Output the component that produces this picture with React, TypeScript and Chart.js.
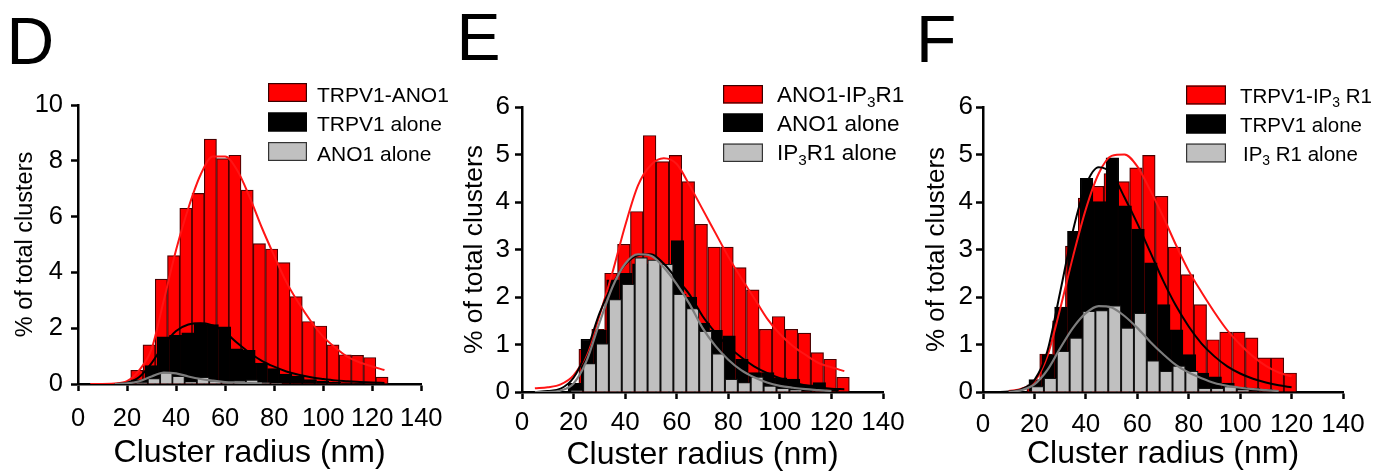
import React, { useEffect, useRef } from 'react';
import { Chart, registerables } from 'chart.js';

Chart.register(...registerables);

const FONT = '"Liberation Sans", Arial, Helvetica, sans-serif';

// ---------------- Panel D : TRPV1-ANO1 ----------------
const D_RED_BINS = [24, 29, 34, 39, 44, 49, 54, 59, 64, 69, 74, 79, 84, 89, 94, 99, 104, 109, 114, 119, 124];
const D_RED = [0.49, 1.4, 3.76, 4.6, 6.3, 6.83, 8.78, 8.08, 8.2, 6.95, 5.03, 4.84, 4.35, 3.13, 2.24, 2.08, 1.4, 1.05, 1.03, 0.95, 0.25];
const D_BLACK_BINS = [24.8, 29.8, 34.8, 39.8, 44.8, 49.8, 54.8, 59.8, 64.8, 69.8, 74.8, 79.8, 84.8, 89.8, 94.8, 99.8, 104.8, 109.8, 114.8];
const D_BLACK = [0.15, 0.66, 1.69, 1.74, 1.83, 2.19, 2.13, 2.05, 1.26, 1.21, 0.75, 0.55, 0.36, 0.28, 0.16, 0.1, 0.06, 0.04, 0.03];
const D_GRAY_BINS = [26, 31, 36, 41, 46, 51, 56, 61, 66, 71, 76, 81];
const D_GRAY = [0.05, 0.2, 0.42, 0.28, 0.08, 0.25, 0.12, 0.05, 0.12, 0.15, 0.05, 0.03];
const D_RED_FIT_X = [5, 15, 20, 25, 30, 35, 40, 45, 50, 55, 60, 65, 70, 75, 80, 85, 90, 95, 100, 105, 110, 115, 120, 125];
const D_RED_FIT_Y = [0, 0.02, 0.1, 0.5, 1.25, 3.0, 4.8, 6.3, 7.5, 8.15, 8.15, 7.65, 6.7, 5.6, 4.6, 3.65, 2.9, 2.25, 1.7, 1.3, 0.97, 0.77, 0.63, 0.5];
const D_BLACK_FIT_X = [15, 20, 25, 30, 35, 40, 45, 50, 55, 60, 65, 70, 75, 80, 85, 90, 95, 100, 105, 110, 115, 120, 125];
const D_BLACK_FIT_Y = [0, 0.05, 0.25, 0.75, 1.4, 1.9, 2.13, 2.18, 2.1, 1.85, 1.47, 1.12, 0.83, 0.62, 0.45, 0.33, 0.24, 0.18, 0.13, 0.1, 0.07, 0.05, 0.04];
const D_GRAY_FIT_X = [15, 20, 25, 30, 35, 40, 45, 50, 55, 60, 65, 70, 75];
const D_GRAY_FIT_Y = [0, 0.02, 0.1, 0.27, 0.41, 0.38, 0.27, 0.18, 0.12, 0.07, 0.05, 0.03, 0.02];
const D_LEGEND = ['TRPV1-ANO1', 'TRPV1 alone', 'ANO1 alone'];

// ---------------- Panel E : ANO1-IP3R1 ----------------
const E_RED_BINS = [19.5, 24.5, 29.5, 34.5, 39.5, 44.5, 49.5, 54.5, 59.5, 64.5, 69.5, 74.5, 79.5, 84.5, 89.5, 94.5, 99.5, 104.5, 109.5, 114.5, 119.5, 124.5];
const E_RED = [0, 0.9, 1.32, 2.5, 3.11, 3.8, 5.4, 4.85, 4.98, 4.43, 3.53, 3.05, 3.05, 2.62, 2.15, 1.32, 1.59, 1.32, 1.24, 0.83, 0.69, 0.31];
const E_BLACK_BINS = [20.3, 25.3, 30.3, 35.3, 40.3, 45.3, 50.3, 55.3, 60.3, 65.3, 70.3, 75.3, 80.3, 85.3, 90.3, 95.3, 100.3, 105.3, 110.3, 115.3, 120.3];
const E_BLACK = [0.18, 1.11, 1.3, 2.36, 2.5, 2.7, 2.7, 2.6, 3.19, 2.0, 1.45, 1.3, 1.18, 0.69, 0.41, 0.41, 0.3, 0.27, 0.15, 0.2, 0.05];
const E_GRAY_BINS = [21.2, 26.2, 31.2, 36.2, 41.2, 46.2, 51.2, 56.2, 61.2, 66.2, 71.2, 76.2, 81.2, 86.2, 91.2, 96.2, 101.2, 106.2];
const E_GRAY = [0.03, 0.6, 1.02, 1.95, 2.27, 2.83, 2.78, 2.69, 2.06, 1.76, 1.28, 0.81, 0.27, 0.2, 0.32, 0.13, 0.08, 0.05];
const E_RED_FIT_X = [5, 10, 15, 20, 25, 30, 35, 40, 45, 50, 55, 60, 65, 70, 75, 80, 85, 90, 95, 100, 105, 110, 115, 120, 125];
const E_RED_FIT_Y = [0.08, 0.1, 0.16, 0.35, 0.8, 1.6, 2.5, 3.5, 4.35, 4.78, 4.92, 4.8, 4.35, 3.85, 3.35, 2.85, 2.4, 1.98, 1.55, 1.22, 0.97, 0.78, 0.61, 0.52, 0.44];
const E_BLACK_FIT_X = [5, 10, 15, 20, 25, 30, 35, 40, 45, 50, 55, 60, 65, 70, 75, 80, 85, 90, 95, 100, 105, 110, 115, 120, 125];
const E_BLACK_FIT_Y = [0, 0.02, 0.07, 0.3, 0.85, 1.65, 2.25, 2.68, 2.88, 2.9, 2.7, 2.38, 2.05, 1.6, 1.25, 0.96, 0.73, 0.54, 0.4, 0.29, 0.21, 0.14, 0.1, 0.07, 0.06];
const E_GRAY_FIT_X = [5, 10, 15, 20, 25, 30, 35, 40, 45, 50, 55, 60, 65, 70, 75, 80, 85, 90, 95, 100, 105, 110, 115, 120];
const E_GRAY_FIT_Y = [0, 0, 0.03, 0.18, 0.65, 1.45, 2.2, 2.7, 2.9, 2.87, 2.62, 2.27, 1.85, 1.35, 0.97, 0.68, 0.46, 0.31, 0.2, 0.13, 0.09, 0.06, 0.04, 0.02];
const E_LEGEND = ['ANO1-IP{3}R1', 'ANO1 alone', 'IP{3}R1 alone'];

// ---------------- Panel F : TRPV1-IP3R1 ----------------
const F_RED_BINS = [19.5, 24.5, 29.5, 34.5, 39.5, 44.5, 49.5, 54.5, 59.5, 64.5, 69.5, 74.5, 79.5, 84.5, 89.5, 94.5, 99.5, 104.5, 109.5, 114.5, 119.5];
const F_RED = [0.15, 0.8, 1.5, 3.07, 4.08, 4.33, 4.6, 4.43, 4.72, 4.98, 4.12, 3.05, 2.47, 1.84, 1.1, 1.26, 1.26, 1.14, 0.72, 0.72, 0.4];
const F_BLACK_BINS = [20.3, 25.3, 30.3, 35.3, 40.3, 45.3, 50.3, 55.3, 60.3, 65.3, 70.3, 75.3, 80.3, 85.3, 90.3, 95.3, 100.3, 105.3, 110.3];
const F_BLACK = [0.26, 0.79, 1.79, 3.38, 4.5, 4.01, 4.93, 3.92, 3.43, 2.72, 1.84, 1.31, 0.79, 0.4, 0.32, 0.19, 0.1, 0.08, 0.05];
const F_GRAY_BINS = [21.2, 26.2, 31.2, 36.2, 41.2, 46.2, 51.2, 56.2, 61.2, 66.2, 71.2, 76.2, 81.2, 86.2, 91.2, 96.2, 101.2];
const F_GRAY = [0.12, 0.29, 0.86, 1.14, 1.7, 1.72, 1.82, 1.35, 1.66, 0.66, 0.44, 0.55, 0.44, 0.08, 0.08, 0.12, 0.05];
const F_RED_FIT_X = [10, 15, 20, 25, 30, 35, 40, 45, 50, 55, 60, 65, 70, 75, 80, 85, 90, 95, 100, 105, 110, 115, 120];
const F_RED_FIT_Y = [0.02, 0.07, 0.22, 0.75, 1.75, 2.85, 3.85, 4.6, 4.97, 5.0, 4.75, 4.25, 3.7, 3.1, 2.55, 2.1, 1.68, 1.3, 1.0, 0.75, 0.55, 0.41, 0.33];
const F_BLACK_FIT_X = [5, 10, 15, 20, 25, 30, 35, 40, 45, 50, 55, 60, 65, 70, 75, 80, 85, 90, 95, 100, 105, 110, 115, 120];
const F_BLACK_FIT_Y = [0, 0.01, 0.06, 0.25, 0.85, 2.1, 3.4, 4.35, 4.73, 4.6, 4.1, 3.55, 2.95, 2.35, 1.82, 1.38, 1.02, 0.75, 0.54, 0.39, 0.28, 0.2, 0.14, 0.1];
const F_GRAY_FIT_X = [10, 15, 20, 25, 30, 35, 40, 45, 50, 55, 60, 65, 70, 75, 80, 85, 90, 95, 100, 105, 110, 115];
const F_GRAY_FIT_Y = [0, 0.04, 0.16, 0.46, 0.92, 1.35, 1.66, 1.81, 1.78, 1.6, 1.35, 1.06, 0.8, 0.57, 0.41, 0.29, 0.19, 0.13, 0.09, 0.06, 0.04, 0.02];
const F_LEGEND = ['TRPV1-IP{3} R1', 'TRPV1 alone', 'IP{3} R1 alone'];

const X_TITLE = 'Cluster radius (nm)';
const Y_TITLE = '% of total clusters';

const RED = '#ff0000';
const BLACK = '#000000';
const GRAY = '#c0c0c0';

type Part = { t: string; sub: boolean };
function parseRich(s: string): Part[] {
  const parts: Part[] = [];
  const re = /\{([^}]*)\}/g;
  let last = 0;
  let m: RegExpExecArray | null;
  while ((m = re.exec(s))) {
    if (m.index > last) parts.push({ t: s.slice(last, m.index), sub: false });
    parts.push({ t: m[1], sub: true });
    last = re.lastIndex;
  }
  if (last < s.length) parts.push({ t: s.slice(last), sub: false });
  return parts;
}

const overlayPlugin = {
  id: 'overlay',
  afterDraw(chart: any, _args: any, o: any) {
    const ctx = chart.ctx as CanvasRenderingContext2D;
    ctx.save();
    ctx.textAlign = 'left';
    ctx.textBaseline = 'alphabetic';
    ctx.fillStyle = '#000';
    ctx.font = `${o.letterSize}px ${FONT}`;
    ctx.fillText(o.letter, o.letterX - o.left, o.letterY);
    const fills = [RED, BLACK, GRAY];
    const borders = ['#3a0000', '#000000', '#333333'];
    o.labels.forEach((lab: string, i: number) => {
      const bx = o.boxX - o.left;
      const by = o.boxTops[i];
      ctx.fillStyle = fills[i];
      ctx.fillRect(bx, by, o.boxW, o.boxH);
      ctx.strokeStyle = borders[i];
      ctx.lineWidth = 1.2;
      ctx.strokeRect(bx + 0.6, by + 0.6, o.boxW - 1.2, o.boxH - 1.2);
      let x = o.textX[i] - o.left;
      const base = o.baselines[i];
      parseRich(lab).forEach((p) => {
        const size = p.sub ? o.fontSize * 0.68 : o.fontSize;
        ctx.font = `${size}px ${FONT}`;
        ctx.fillStyle = '#000';
        ctx.fillText(p.t, x, base + (p.sub ? o.fontSize * 0.24 : 0));
        x += ctx.measureText(p.t).width;
      });
    });
    ctx.restore();
  },
};

type PanelSpec = {
  letter: string;
  left: number;
  width: number;
  yAxisW: number;
  padRight: number;
  padTop: number;
  xAxisH: number;
  yMax: number;
  yStep: number;
  barThickness: number;
  tickSize: number;
  xTickPad: number;
  yTickPad: number;
  xTitleSize: number;
  xTitlePadB: number;
  yTitleSize: number;
  yTitlePadT: number;
  red: [number[], number[]];
  black: [number[], number[]];
  gray: [number[], number[]];
  redFit: [number[], number[]];
  blackFit: [number[], number[]];
  grayFit: [number[], number[]];
  legend: string[];
  legendGeom: any;
  letterPos: [number, number];
};

const PANELS: PanelSpec[] = [
  {
    letter: 'D', left: 0, width: 455, yAxisW: 78, padRight: 25, padTop: 105, xAxisH: 90,
    yMax: 10, yStep: 2, barThickness: 12.2, tickSize: 25.5, xTickPad: 12.5, yTickPad: 8,
    xTitleSize: 32, xTitlePadB: 1.5, yTitleSize: 23.5, yTitlePadT: 11,
    red: [D_RED_BINS, D_RED], black: [D_BLACK_BINS, D_BLACK], gray: [D_GRAY_BINS, D_GRAY],
    redFit: [D_RED_FIT_X, D_RED_FIT_Y], blackFit: [D_BLACK_FIT_X, D_BLACK_FIT_Y], grayFit: [D_GRAY_FIT_X, D_GRAY_FIT_Y],
    legend: D_LEGEND,
    legendGeom: { boxX: 268, boxW: 39, boxH: 19, boxTops: [83, 112.5, 142], textX: [317, 317, 317], baselines: [101.5, 131, 160.5], fontSize: 21 },
    letterPos: [6.5, 63.5],
  },
  {
    letter: 'E', left: 455, width: 459, yAxisW: 67, padRight: 31, padTop: 107, xAxisH: 82,
    yMax: 6, yStep: 1, barThickness: 12.6, tickSize: 26, xTickPad: 8.4, yTickPad: 5,
    xTitleSize: 32, xTitlePadB: 0, yTitleSize: 26.5, yTitlePadT: 4,
    red: [E_RED_BINS, E_RED], black: [E_BLACK_BINS, E_BLACK], gray: [E_GRAY_BINS, E_GRAY],
    redFit: [E_RED_FIT_X, E_RED_FIT_Y], blackFit: [E_BLACK_FIT_X, E_BLACK_FIT_Y], grayFit: [E_GRAY_FIT_X, E_GRAY_FIT_Y],
    legend: E_LEGEND,
    legendGeom: { boxX: 723, boxW: 40, boxH: 18.5, boxTops: [85, 113.5, 143.5], textX: [777, 777, 777], baselines: [101.7, 130.5, 160], fontSize: 22.5 },
    letterPos: [456.5, 60],
  },
  {
    letter: 'F', left: 914, width: 467, yAxisW: 69, padRight: 38, padTop: 107, xAxisH: 82,
    yMax: 6, yStep: 1, barThickness: 12.6, tickSize: 26, xTickPad: 10.4, yTickPad: 3,
    xTitleSize: 32, xTitlePadB: 1, yTitleSize: 26, yTitlePadT: 7.4,
    red: [F_RED_BINS, F_RED], black: [F_BLACK_BINS, F_BLACK], gray: [F_GRAY_BINS, F_GRAY],
    redFit: [F_RED_FIT_X, F_RED_FIT_Y], blackFit: [F_BLACK_FIT_X, F_BLACK_FIT_Y], grayFit: [F_GRAY_FIT_X, F_GRAY_FIT_Y],
    legend: F_LEGEND,
    legendGeom: { boxX: 1186, boxW: 40, boxH: 19, boxTops: [85.5, 114.5, 143.5], textX: [1240, 1240, 1243], baselines: [102.5, 131.5, 160.5], fontSize: 20.5 },
    letterPos: [916, 62],
  },
];

const pts = (xs: number[], ys: number[]) => xs.map((x, i) => ({ x, y: ys[i] }));

function makeConfig(p: PanelSpec): any {
  const bar = (label: string, d: [number[], number[]], bg: string, border: string, order: number) => ({
    type: 'bar',
    label,
    data: pts(d[0], d[1]),
    backgroundColor: bg,
    borderColor: border,
    borderWidth: 1.2,
    barThickness: p.barThickness,
    grouped: false,
    order,
  });
  const line = (label: string, d: [number[], number[]], color: string, width: number, order: number) => ({
    type: 'line',
    label,
    data: pts(d[0], d[1]),
    borderColor: color,
    backgroundColor: color,
    borderWidth: width,
    pointRadius: 0,
    fill: false,
    cubicInterpolationMode: 'monotone',
    order,
  });
  const axisCommon = {
    grid: {
      display: true,
      drawOnChartArea: false,
      drawTicks: true,
      tickLength: 7,
      tickWidth: 2.5,
      tickColor: '#000',
      color: '#000',
      offset: false,
    },
    border: { display: true, color: '#000', width: 2.5 },
  };
  return {
    type: 'bar',
    data: {
      datasets: [
        bar(p.legend[0], p.red, RED, '#4a0000', 6),
        bar(p.legend[1], p.black, BLACK, '#000000', 5),
        bar(p.legend[2], p.gray, GRAY, '#111111', 4),
        line('fit-red', p.redFit, '#ff1414', 2, 3),
        line('fit-black', p.blackFit, '#000000', 2, 2),
        line('fit-gray', p.grayFit, '#7d7d7d', 2.2, 1),
      ],
    },
    options: {
      responsive: false,
      maintainAspectRatio: false,
      devicePixelRatio: 1,
      animation: false,
      events: [],
      layout: { padding: { left: 0, right: p.padRight, top: p.padTop, bottom: 0 } },
      plugins: {
        legend: { display: false },
        tooltip: { enabled: false },
        overlay: {
          left: p.left,
          letter: p.letter,
          letterSize: 66,
          letterX: p.letterPos[0],
          letterY: p.letterPos[1],
          labels: p.legend,
          ...p.legendGeom,
        },
      },
      scales: {
        x: {
          type: 'linear',
          min: 0,
          max: 140,
          offset: false,
          ...axisCommon,
          ticks: {
            stepSize: 20,
            autoSkip: false,
            maxRotation: 0,
            color: '#000',
            padding: p.xTickPad,
            font: { family: FONT, size: p.tickSize },
          },
          title: {
            display: true,
            text: X_TITLE,
            color: '#000',
            font: { family: FONT, size: p.xTitleSize },
            padding: { top: 0, bottom: p.xTitlePadB },
          },
          afterFit: (s: any) => {
            s.height = p.xAxisH;
          },
        },
        y: {
          type: 'linear',
          min: 0,
          max: p.yMax,
          ...axisCommon,
          ticks: {
            stepSize: p.yStep,
            color: '#000',
            padding: p.yTickPad,
            font: { family: FONT, size: p.tickSize },
          },
          title: {
            display: true,
            text: Y_TITLE,
            color: '#000',
            font: { family: FONT, size: p.yTitleSize },
            padding: { top: p.yTitlePadT, bottom: 0 },
          },
          afterFit: (s: any) => {
            s.width = p.yAxisW;
          },
        },
      },
    },
    plugins: [overlayPlugin],
  };
}

function Panel({ spec }: { spec: PanelSpec }) {
  const ref = useRef<HTMLCanvasElement>(null);
  useEffect(() => {
    const chart = new Chart(ref.current as HTMLCanvasElement, makeConfig(spec));
    return () => chart.destroy();
  }, [spec]);
  return (
    <canvas
      ref={ref}
      width={spec.width}
      height={474}
      style={{ position: 'absolute', left: spec.left, top: 0, width: spec.width, height: 474 }}
    />
  );
}

export default function App() {
  return (
    <div
      style={{
        position: 'absolute',
        left: 0,
        top: 0,
        width: 1381,
        height: 474,
        background: '#ffffff',
        overflow: 'hidden',
      }}
    >
      {PANELS.map((p) => (
        <Panel key={p.letter} spec={p} />
      ))}
    </div>
  );
}
